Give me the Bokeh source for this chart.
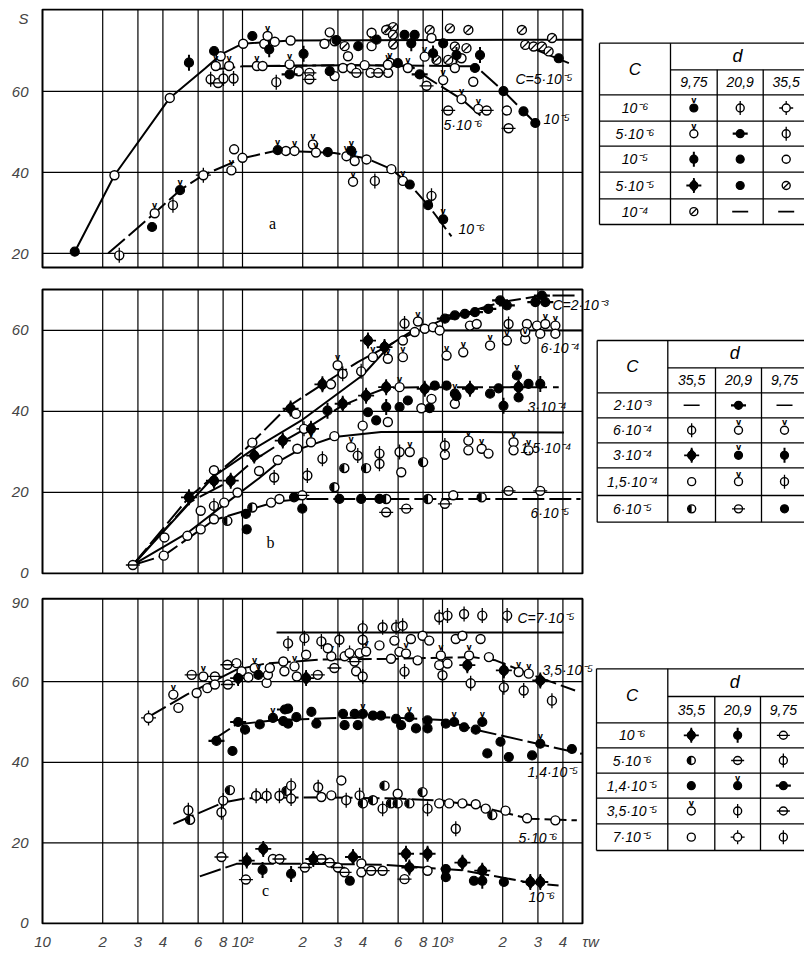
import math
from bokeh.plotting import figure
from bokeh.layouts import column
from bokeh.models import Range1d, LinearScale, FixedTicker
from bokeh.core.properties import value
from bokeh.embed import file_html
from bokeh.resources import INLINE

FONT = "Liberation Sans"
SERIF = "Liberation Serif"

# ---------------- axes ----------------
X_TICKS = [10, 20, 30, 40, 60, 80, 100, 200, 300, 400, 600, 800, 1000, 2000, 3000, 4000]
X_TICK_LABELS = ["10", "2", "3", "4", "6", "8", "10²", "2", "3", "4", "6", "8", "10³", "2", "3", "4"]
X_NAME = "τw"
X_NAME_POS = 5500
X_LIMITS = [10, 5012]
Y_GRID = [20, 40, 60]

A_Y_TICKS = [20, 40, 60, 78]
A_Y_LABELS = ["20", "40", "60", "S"]
A_Y_LIMITS = [16.5, 80.25]
B_Y_TICKS = [0, 20, 40, 60]
B_Y_LABELS = ["0", "20", "40", "60"]
B_Y_LIMITS = [0, 70.1]
C_Y_TICKS = [0, 20, 40, 60, 79.6]
C_Y_LABELS = ["0", "20", "40", "60", "90"]
C_Y_LIMITS = [0, 80.6]

# ---------------- panel a ----------------
A_LOW_X = [24.2, 35.3, 36.4, 44.9, 48.7, 63.7, 90.8, 88, 100, 150, 165, 182, 225, 233, 267, 331, 350, 364,
           357, 417, 459, 555, 634, 686, 881, 847, 1008]
A_LOW_Y = [19.5, 26.5, 29.9, 31.9, 35.6, 39.3, 45.7, 40.5, 43.6, 45.5, 45.3, 45.3, 46.9, 44.9, 45.0, 44.0, 45.3, 42.8,
           37.7, 43.2, 37.9, 40.8, 37.9, 37.0, 34.2, 31.9, 28.4]
A_LOW_M = ["os", "f", "ov", "os", "fv", "od", "o", "ov", "o", "fv", "o", "ov", "ov", "ov", "f", "ov", "fv", "ov",
           "ov", "o", "os", "o", "ov", "f", "os", "f", "fv"]

A_UP_X = [14.5, 22.9, 43.3, 54, 72.1, 69.3, 75.5, 73.5, 80.3, 90.2, 85.7, 77.8, 100.8, 112, 118, 126, 128.5, 133.5,
          136, 145, 147.5, 174, 172, 172, 191, 202, 216, 216, 257, 273, 289, 295, 273, 289, 324, 337, 379, 318,
          350, 371, 408, 437, 442, 468, 442, 477, 535, 546, 535, 567, 567, 523, 565, 646, 726, 698, 863, 881,
          1089, 1347, 1008, 1153, 1318, 1540, 533, 598, 671, 769, 815, 897, 933, 1068, 1175, 1245, 1153, 1453,
          832, 1008, 1245, 1510, 1663, 1068, 1425, 2018, 2098, 2139, 2541, 2911, 2495, 2592, 2855, 3141, 3529,
          3393, 3812]
A_UP_Y = [20.4, 39.3, 58.4, 67.1, 70.0, 63.0, 62.1, 66.3, 63.2, 63.2, 66.3, 68.7, 71.8, 73.7, 66.3, 66.3, 71.8, 73.7,
          70.4, 72.3, 62.3, 72.6, 66.7, 64.2, 65.0, 69.3, 64.6, 63.0, 71.8, 74.6, 72.4, 72.7, 65.0, 63.8, 71.2, 68.7,
          71.2, 65.8, 65.8, 64.6, 66.5, 64.6, 74.5, 72.8, 71.2, 64.6, 64.6, 67.1, 75.3, 75.9, 71.6, 75.2, 74.0,
          74.0, 74.0, 71.9, 75.2, 73.2, 75.6, 75.2, 71.9, 71.1, 70.7, 69.0, 66.6, 67.0, 65.8, 64.2, 68.6, 69.4,
          67.8, 67.8, 69.0, 68.2, 65.8, 65.8, 61.4, 62.8, 58.1, 55.7, 55.3, 55.3, 62.4, 60.1, 55.3, 50.9, 55.1,
          52.2, 75.2, 71.5, 71.1, 71.1, 73.2, 69.9, 68.2]
A_UP_M = ["f", "o", "o", "fs", "f", "os", "oh", "ov", "os", "os", "ov", "o", "o", "f", "ov", "o", "o", "ov",
          "fs", "o", "os", "o", "ov", "fh", "o", "fs", "oh", "oh", "o", "o", "o", "f", "f", "o", "sl", "o", "f", "o",
          "o", "oh", "o", "o", "o", "f", "ov", "oh", "o", "ov", "sl", "sl", "sl", "sl", "sl", "f", "f", "fs", "sl",
          "o", "sl", "sl", "f", "sl", "sl", "fs", "ov", "f", "ov", "fh", "ov", "fs", "sl", "sl", "fs", "o", "o",
          "f", "oh", "ov", "ov", "ov", "oh", "oh", "o", "f", "o", "oh", "f", "f", "sl", "sl", "sl", "sl", "sl",
          "sl", "f"]

# curves of panel a
A_5E5_X = [14.5, 22.9, 43.3, 65.4, 77.8, 100, 174, 5000]
A_5E5_Y = [20.4, 39.3, 58.4, 65.8, 69.1, 71.8, 72.6, 72.8]
A_5E5B_X = [2495, 4285]
A_5E5B_Y = [71.7, 67.0]
A_1E5_X = [71.5, 100, 400, 1469, 2018, 2541, 2911]
A_1E5_Y = [65.4, 66.2, 66.5, 66.2, 60.1, 55.1, 52.2]
A_5E6_X = [120, 400, 700, 815, 1245, 1570]
A_5E6_Y = [66.3, 66.5, 66.2, 63.8, 58.1, 53.8]
A_1E6_X = [21.3, 36.5, 48.7, 63.5, 100, 149, 288, 415, 555, 686, 847, 1109]
A_1E6_Y = [20.0, 30.0, 35.6, 39.3, 43.5, 45.4, 44.8, 43.5, 40.8, 37.0, 31.9, 24.2]

A_LABELS = ["C=5·10⁻⁵", "10⁻⁵", "5·10⁻⁶", "10⁻⁶"]

# ---------------- panel b ----------------
B_2E3_X = [1028, 1153, 1294, 1453, 1694, 1941, 2098, 2911, 3141, 3266]
B_2E3_Y = [62.9, 63.7, 64.1, 64.5, 65.3, 67.4, 66.2, 67.0, 68.6, 67.0]
B_2E3_M = ["fh"] * 10

B_6E4_X = [72, 112, 185, 299, 277, 317, 392, 449, 533, 634, 634, 646, 754, 815, 897, 726, 968, 1372, 1483, 1048,
           1270, 1729, 2098, 2592, 2139, 2643, 2968, 3266, 3667, 2592, 3082, 3667]
B_6E4_Y = [25.5, 32.3, 39.4, 51.4, 46.7, 49.3, 49.9, 53.4, 53.0, 53.4, 57.5, 61.7, 62.2, 60.4, 60.8, 59.6, 60.0,
           61.2, 61.6, 53.8, 54.6, 56.3, 57.5, 57.9, 61.6, 61.6, 61.2, 61.6, 61.2, 59.6, 59.2, 59.2]
B_6E4_M = ["o", "o", "o", "ov", "o", "os", "os", "ov", "ov", "ov", "o", "os", "ov", "o", "o", "o", "o", "o", "o",
           "ov", "ov", "ov", "ov", "ov", "os", "o", "o", "ov", "ov", "o", "o", "o"]

B_3E4_X = [54, 72, 87.3, 114.5, 159, 174, 251, 513, 424, 266, 317, 415, 523, 523, 610, 610, 671, 815, 915, 1048,
           1153, 1372, 1729, 881, 784, 863, 1153, 533, 424, 466, 399, 203, 220, 1906, 2355, 2401, 2692, 3082,
           2401, 2018, 1175]
B_3E4_Y = [18.8, 22.9, 22.9, 29.1, 32.8, 40.7, 46.7, 55.9, 57.5, 40.2, 41.9, 43.9, 46.0, 41.1, 46.0, 41.1, 42.7,
           45.6, 46.4, 46.4, 44.4, 45.6, 44.4, 43.1, 40.8, 40.8, 41.9, 37.4, 39.8, 37.8, 36.5, 35.7, 35.7, 45.7,
           48.9, 46.0, 46.8, 46.8, 43.5, 41.4, 43.8]
B_3E4_M = ["fd", "fd", "fd", "fd", "fd", "fd", "fd", "fd", "fd", "fs", "fd", "fd", "fd", "fs", "ov", "f", "f",
           "fd", "f", "f", "fv", "fd", "f", "o", "o", "f", "o", "o", "f", "f", "o", "od", "fd", "f", "fv", "fd",
           "f", "fs", "f", "fs", "f"]

B_15E4_X = [40.7, 61.8, 72, 81, 94.4, 121, 144, 150, 188, 220, 288, 349, 377, 251, 211, 323, 415, 484, 484, 610,
            686, 622, 800, 1028, 1028, 1347, 1347, 1570, 1698, 2266, 2266, 2692]
B_15E4_Y = [8.9, 15.5, 16.7, 17.5, 20.0, 25.3, 23.7, 28.0, 30.8, 32.4, 33.9, 31.2, 29.1, 28.3, 24.2, 26.0, 26.0,
            29.6, 27.1, 30.0, 30.0, 25.0, 27.5, 31.6, 29.3, 32.8, 30.4, 30.8, 29.6, 32.4, 30.4, 30.4]
B_15E4_M = ["o", "o", "os", "o", "o", "o", "os", "o", "o", "ov", "o", "ov", "os", "os", "os", "half", "half", "os",
            "os", "os", "ov", "o", "half", "os", "o", "ov", "o", "ov", "o", "ov", "o", "ov"]

B_6E5_X = [28.3, 40.4, 53, 61.8, 72, 84, 104, 105, 112, 139, 153, 181, 199, 199, 288, 305, 392, 484, 523, 523,
           659, 847, 1028, 1132, 1570, 2139, 3082]
B_6E5_Y = [2.1, 4.4, 9.3, 10.9, 13.4, 13.0, 14.7, 10.9, 16.3, 17.5, 18.4, 18.8, 19.3, 16.0, 21.3, 18.4, 18.4,
           18.4, 18.4, 15.1, 16.0, 18.4, 17.2, 19.3, 18.8, 20.4, 20.4]
B_6E5_M = ["oh", "o", "o", "o", "o", "half", "f", "f", "half", "o", "o", "f", "oh", "f", "half", "f", "f", "f",
           "half", "oh", "oh", "half", "oh", "o", "half", "oh", "oh"]

# curves of panel b
B_L2E3_X = [28.3, 54, 100, 168, 251, 377, 622, 1028, 1294, 1982, 3141, 4600]
B_L2E3_Y = [2.1, 18.8, 30.0, 41.1, 46.7, 52.2, 58.0, 62.9, 64.3, 67.0, 68.6, 68.6]
B_L6E4_X = [28.3, 72, 112, 200, 400, 555, 713, 4990]
B_L6E4_Y = [2.1, 24.0, 30.5, 38.0, 49.0, 56.7, 60.0, 60.0]
B_L3E4_X = [28.3, 54, 87, 114.5, 162, 220, 317, 415, 523, 815, 1372, 2401, 3812]
B_L3E4_Y = [2.1, 17.5, 22.9, 28.0, 32.8, 36.5, 41.5, 43.9, 45.8, 46.0, 46.0, 46.0, 46.0]
B_L15E4_X = [28.3, 53, 81, 121, 155, 200, 288, 493, 1000, 4045]
B_L15E4_Y = [2.1, 10.0, 17.0, 23.5, 27.9, 31.0, 33.7, 34.9, 35.0, 34.8]
B_L6E5_X = [28.3, 40.4, 72, 112, 150, 201, 400, 1000, 4900]
B_L6E5_Y = [2.1, 4.4, 13.2, 16.0, 17.8, 18.4, 18.4, 18.4, 18.4]

B_LABELS = ["C=2·10⁻³", "6·10⁻⁴", "3·10⁻⁴", "1,5·10⁻⁴", "6·10⁻⁵"]

# ---------------- panel c ----------------
C_7E5_X = [963, 1059, 1282, 1581, 2105, 502, 586, 632, 169, 204, 248, 305, 399, 399, 484, 575, 695, 795, 858, 1165,
           1258, 1550, 267]
C_7E5_Y = [76.0, 76.4, 76.8, 76.4, 76.4, 73.5, 73.5, 73.9, 69.5, 70.8, 70.0, 70.4, 73.3, 70.4, 69.0, 70.2, 70.6,
           71.4, 70.2, 70.6, 71.4, 70.6, 68.3]
C_7E5_M = ["os", "os", "os", "os", "os", "os", "os", "os", "os", "os", "os", "os", "os", "os", "o", "o", "o", "o",
           "o", "o", "o", "o", "o"]

C_35E5_X = [33.9, 45.1, 47.8, 55.7, 59.0, 63.7, 66.7, 72.8, 72.8, 84.0, 84.5, 93.3, 95.1, 98.9, 107, 115, 120, 132,
            134, 137, 160, 162, 182, 187, 208, 208, 238, 278, 288, 324, 343, 363, 370, 385, 399, 415, 553, 609,
            657, 751, 981, 963, 1059, 1000, 646, 1358, 1706, 1331, 1383, 2027, 2027, 2404, 2547, 2699, 3083, 3525]
C_35E5_Y = [51.0, 56.8, 53.5, 61.7, 57.2, 61.3, 58.4, 61.3, 59.3, 64.2, 59.3, 64.6, 60.9, 62.6, 61.1, 63.4, 61.7,
            59.7, 61.7, 63.4, 65.0, 62.6, 63.8, 61.3, 66.7, 60.9, 61.7, 66.3, 63.4, 66.3, 67.1, 65.0, 62.6, 67.1,
            61.3, 67.5, 65.7, 67.4, 67.0, 65.3, 66.5, 64.1, 64.5, 61.6, 62.5, 66.5, 66.1, 64.1, 59.6, 62.8, 58.6,
            62.4, 57.8, 62.0, 60.3, 55.3]
C_35E5_M = ["od", "ov", "o", "oh", "o", "ov", "o", "oh", "o", "oh", "oh", "o", "fd", "o", "o", "ov", "fv", "o",
            "o", "o", "o", "o", "ov", "o", "o", "fd", "oh", "ov", "oh", "o", "od", "oh", "o", "o", "os", "ov", "o",
            "o", "ov", "o", "ov", "o", "o", "os", "os", "ov", "o", "fd", "os", "fd", "os", "ov", "os", "ov", "fd",
            "os"]

C_14E5_X = [74.1, 89.1, 95.1, 103, 122, 142, 163, 160, 169, 186, 169, 221, 234, 318, 324, 377, 364, 400, 449, 493,
            586, 621, 683, 737, 842, 842, 1039, 1143, 1282, 1466, 1581, 1675, 1950, 2146, 2805, 3083, 4435]
C_14E5_Y = [45.3, 42.8, 50.0, 48.1, 49.4, 51.0, 53.1, 50.2, 53.3, 51.2, 49.6, 52.5, 49.6, 52.0, 49.2, 49.2, 52.0,
            52.0, 51.6, 51.6, 50.8, 49.2, 51.2, 48.4, 50.4, 48.4, 49.6, 50.0, 48.7, 48.1, 50.0, 42.2, 45.1, 41.3,
            41.7, 44.6, 43.3]
C_14E5_M = ["fh", "f", "fh", "f", "f", "fv", "fh", "f", "f", "f", "f", "f", "f", "f", "f", "f", "f", "fv", "f",
            "f", "f", "f", "fv", "f", "f", "f", "f", "fv", "f", "f", "fv", "f", "f", "f", "f", "fv", "f"]

C_5E6_X = [53.6, 54.7, 78.5, 80.1, 86.5, 117, 132, 153, 166, 175, 175, 239, 248, 278, 312, 330, 385, 400, 449, 502,
           513, 553, 597, 597, 683, 795, 842, 963, 1080, 1258, 1466, 1645, 1775, 1165, 2066, 2648, 3667]
C_5E6_Y = [28.1, 25.7, 27.6, 30.5, 33.1, 31.7, 31.7, 31.7, 32.9, 34.2, 31.0, 33.8, 31.4, 31.8, 35.5, 30.6, 31.8,
           29.8, 30.6, 28.5, 34.2, 29.8, 32.2, 29.8, 29.8, 32.6, 28.5, 29.8, 29.8, 29.8, 29.6, 28.5, 26.9, 23.5,
           28.0, 26.1, 25.6]
C_5E6_M = ["os", "half", "os", "os", "half", "os", "os", "os", "half", "os", "os", "os", "o", "o", "o", "os", "os",
           "half", "half", "os", "half", "half", "o", "half", "half", "half", "os", "o", "o", "o", "o", "o", "half",
           "os", "o", "o", "o"]

C_1E6_X = [78.5, 104, 105, 126, 127, 142, 153, 175, 205, 226, 248, 273, 300, 324, 344, 357, 393, 393, 440, 502, 657,
           683, 646, 842, 842, 1039, 1039, 1258, 1436, 1581, 1581, 2027, 2749, 3083]
C_1E6_Y = [16.5, 10.9, 15.6, 13.3, 18.5, 16.0, 16.0, 12.3, 13.9, 16.0, 16.0, 15.1, 13.9, 12.7, 10.6, 16.5, 14.9,
           12.7, 13.1, 13.1, 17.3, 13.9, 11.0, 17.3, 13.1, 13.5, 11.5, 15.1, 10.6, 13.1, 10.6, 10.3, 10.3, 10.3]
C_1E6_M = ["oh", "oh", "fd", "fs", "fd", "o", "oh", "fs", "oh", "fd", "oh", "oh", "oh", "oh", "f", "fd", "o", "o",
           "oh", "oh", "fd", "fd", "oh", "fd", "o", "f", "f", "fd", "f", "fd", "fs", "f", "fd", "fd"]

# curves of panel c
C_L7E5_X = [148, 4030]
C_L7E5_Y = [72.2, 72.2]
C_L35E5_X = [33.2, 52.6, 93.3, 130, 250, 600, 1410, 1842, 2698, 4603]
C_L35E5_Y = [51.0, 56.8, 63.0, 64.5, 65.5, 65.7, 66.1, 65.3, 62.0, 57.8]
C_L14E5_X = [70, 93.3, 150, 300, 503, 1000, 1522, 4977]
C_L14E5_Y = [45.3, 49.4, 50.5, 51.0, 51.2, 50.5, 47.9, 42.1]
C_L5E6_X = [45.1, 80.1, 105, 250, 600, 1000, 1580, 2698, 4696]
C_L5E6_Y = [24.7, 30.0, 31.1, 31.3, 31.0, 30.5, 28.9, 26.0, 25.6]
C_L1E6_X = [61.2, 93.3, 200, 503, 1257, 2698, 3805]
C_L1E6_Y = [11.7, 14.8, 14.8, 14.6, 13.2, 10.2, 9.4]

C_LABELS = ["C=7·10⁻⁵", "3,5·10⁻⁵", "1,4·10⁻⁵", "5·10⁻⁶", "10⁻⁶"]

# ---------------- legend tables ----------------
TA_ROWS = ["10⁻⁶", "5·10⁻⁶", "10⁻⁵", "5·10⁻⁵", "10⁻⁴"]
TA_COLS = ["9,75", "20,9", "35,5"]
TA_SYMS = [["fv", "os", "od"], ["ov", "fh", "os"], ["fs", "f", "o"], ["fd", "f", "sl"], ["sl", "-", "-"]]
TB_ROWS = ["2·10⁻³", "6·10⁻⁴", "3·10⁻⁴", "1,5·10⁻⁴", "6·10⁻⁵"]
TB_COLS = ["35,5", "20,9", "9,75"]
TB_SYMS = [["-", "fh", "-"], ["os", "ov", "ov"], ["fd", "fv", "fs"], ["o", "ov", "os"], ["half", "oh", "f"]]
TC_ROWS = ["10⁻⁶", "5·10⁻⁶", "1,4·10⁻⁵", "3,5·10⁻⁵", "7·10⁻⁵"]
TC_COLS = ["35,5", "20,9", "9,75"]
TC_SYMS = [["fd", "fs", "oh"], ["half", "oh", "os"], ["f", "fv", "fh"], ["ov", "os", "oh"], ["o", "od", "os"]]

# ---------------- layout ----------------
W = 804
LEFT = 40
PAGE_RIGHT = 804
PX_DEC = 200.0


def page_to_x(px):
    return 10 ** (1 + (px - 42) / PX_DEC)


XR = (page_to_x(LEFT), page_to_x(PAGE_RIGHT))


def draw_symbols(p, xs, ys, ms, size=9, rn=None):
    kw = dict(x_range_name=rn, y_range_name=rn) if rn else {}

    def sel(codes):
        xx = [x for x, m in zip(xs, ms) if m in codes]
        yy = [y for y, m in zip(ys, ms) if m in codes]
        return xx, yy

    xx, yy = sel({"od"})
    if xx:
        p.scatter(xx, yy, marker="cross", size=size + 6, line_color="black", line_width=1.3, **kw)
    xx, yy = sel({"fd"})
    if xx:
        p.scatter(xx, yy, marker="cross", size=size + 7, line_color="black", line_width=1.8, **kw)
        p.scatter(xx, yy, marker="diamond", size=size + 5, fill_color="black", line_color="black", **kw)
    xx, yy = sel({"o", "ov", "os", "oh", "od", "sl", "half"})
    if xx:
        p.scatter(xx, yy, marker="circle", size=size, fill_color="white", line_color="black",
                  line_width=1.4, **kw)
    xx, yy = sel({"f", "fv", "fs", "fh", "fd"})
    if xx:
        p.scatter(xx, yy, marker="circle", size=size, fill_color="black", line_color="black",
                  line_width=1.2, **kw)
    xx, yy = sel({"os"})
    if xx:
        p.scatter(xx, yy, marker="dash", angle=math.pi / 2, size=size + 6, line_color="black",
                  line_width=1.3, **kw)
    xx, yy = sel({"fs"})
    if xx:
        p.scatter(xx, yy, marker="dash", angle=math.pi / 2, size=size + 7, line_color="black",
                  line_width=2, **kw)
    xx, yy = sel({"oh"})
    if xx:
        p.scatter(xx, yy, marker="dash", size=size + 5, line_color="black", line_width=1.3, **kw)
    xx, yy = sel({"fh"})
    if xx:
        p.scatter(xx, yy, marker="dash", size=size + 7, line_color="black", line_width=2.2, **kw)
    xx, yy = sel({"sl"})
    if xx:
        p.scatter(xx, yy, marker="dash", angle=math.pi / 4, size=size, line_color="black",
                  line_width=1.3, **kw)
    xx, yy = sel({"half"})
    if xx:
        p.wedge(xx, yy, radius=size / 2 - 0.3, radius_units="screen", start_angle=math.pi / 2,
                end_angle=3 * math.pi / 2, fill_color="black", line_color=None, **kw)
    xx, yy = sel({"ov", "fv"})
    if xx:
        p.text(xx, yy, text=["v"] * len(xx), text_font=value("DejaVu Sans"), text_font_size="8px",
               text_font_style="bold", text_align="center", text_baseline="bottom", y_offset=-3,
               text_color="black", **kw)
    xx, yy = sel({"-"})
    if xx:
        p.scatter(xx, yy, marker="dash", size=16, line_color="black", line_width=1.6, **kw)


def put_text(p, xs, ys, texts, size="14px", font=FONT, style="italic", align="left"):
    p.text(x=xs, y=ys, text=texts, x_range_name="px", y_range_name="px", text_font=value(font),
           text_font_style=style, text_font_size=size, text_align=align, text_baseline="middle",
           text_color="black")


def draw_table(p, gx, gy, rows, cols, syms):
    x0, x1, x2, x3 = gx
    top, dline, hdr, bottom = gy[0], gy[1], gy[2], gy[-1]
    hy = [top, hdr] + gy[3:-1] + [bottom]
    lk = dict(line_color="black", line_width=1.3, x_range_name="px", y_range_name="px")
    p.segment(x0=[x0] * len(hy), y0=hy, x1=[PAGE_RIGHT] * len(hy), y1=hy, **lk)
    p.segment(x0=[x1], y0=[dline], x1=[PAGE_RIGHT], y1=[dline], **lk)
    p.segment(x0=[x0, x1, x2, x3], y0=[top, top, dline, dline], x1=[x0, x1, x2, x3], y1=[bottom] * 4, **lk)
    bounds = [hdr] + gy[3:-1] + [bottom]
    rc = [(bounds[i] + bounds[i + 1]) / 2 for i in range(len(bounds) - 1)]
    cc = [(x1 + x2) / 2, (x2 + x3) / 2, x3 + (x3 - x2) / 2]
    put_text(p, [(x0 + x1) / 2], [(top + hdr) / 2], ["C"], size="17px", align="center")
    put_text(p, [x1 + 67], [(top + dline) / 2 - 1], ["d"], size="18px", align="center")
    put_text(p, cc, [(dline + hdr) / 2] * 3, cols, size="14px", align="center")
    put_text(p, [(x0 + x1) / 2] * len(rows), rc, rows, size="14px", align="center")
    sx, sy, sm = [], [], []
    for r, row in enumerate(syms):
        for c, s in enumerate(row):
            sx.append(cc[c])
            sy.append(rc[r])
            sm.append(s)
    draw_symbols(p, sx, sy, sm, size=8, rn="px")


def make_panel(height, b_top, b_bot, yr, page_top, page_bot, yticks, ylabels, ylim, show_x):
    p = figure(width=W, height=height, x_axis_type="log", x_range=Range1d(*XR), y_range=Range1d(*yr),
               x_axis_location="below" if show_x else None, output_backend="svg", toolbar_location=None,
               min_border_left=LEFT, min_border_right=0, min_border_top=b_top, min_border_bottom=b_bot)
    p.outline_line_color = None
    p.grid.visible = False
    p.background_fill_color = "white"
    p.border_fill_color = "white"
    p.extra_x_ranges = {"px": Range1d(LEFT, PAGE_RIGHT)}
    p.extra_y_ranges = {"px": Range1d(page_bot, page_top)}
    p.extra_x_scales = {"px": LinearScale()}
    p.extra_y_scales = {"px": LinearScale()}
    ya = p.yaxis[0]
    ya.ticker = FixedTicker(ticks=yticks)
    ya.major_label_overrides = {t: l for t, l in zip(yticks, ylabels)}
    ya.axis_line_color = None
    ya.major_tick_line_color = None
    ya.minor_tick_line_color = None
    ya.major_label_text_font = FONT
    ya.major_label_text_font_style = "italic"
    ya.major_label_text_font_size = "15px"
    ya.major_label_standoff = 6
    if show_x:
        xa = p.xaxis[0]
        ticks = X_TICKS + [X_NAME_POS]
        xa.ticker = FixedTicker(ticks=ticks)
        xa.major_label_overrides = {t: l for t, l in zip(ticks, X_TICK_LABELS + [X_NAME])}
        xa.axis_line_color = None
        xa.major_tick_line_color = None
        xa.minor_tick_line_color = None
        xa.major_tick_out = 0
        xa.major_label_text_font = FONT
        xa.major_label_text_font_style = "italic"
        xa.major_label_text_font_size = "15px"
        xa.major_label_standoff = 8
    # grid (inside plotting frame)
    gx = [t for t in X_TICKS if X_LIMITS[0] < t < X_LIMITS[1]]
    p.segment(x0=gx, y0=[ylim[0]] * len(gx), x1=gx, y1=[ylim[1]] * len(gx), line_color="black",
              line_width=1.2)
    p.segment(x0=[X_LIMITS[0]] * len(Y_GRID), y0=Y_GRID, x1=[X_LIMITS[1]] * len(Y_GRID), y1=Y_GRID,
              line_color="black", line_width=1.2)
    p.quad(left=[X_LIMITS[0]], right=[X_LIMITS[1]], bottom=[ylim[0]], top=[ylim[1]], fill_color=None,
           line_color="black", line_width=2)
    return p


SOLID = "solid"
DASH = "22 5"

# ---- panel a ----
pa = make_panel(275, 8, 6, (16.0, 80.5), 8, 269, A_Y_TICKS, A_Y_LABELS, A_Y_LIMITS, False)
for xs, ys, d in [(A_5E5_X, A_5E5_Y, SOLID), (A_5E5B_X, A_5E5B_Y, SOLID), (A_1E5_X, A_1E5_Y, DASH),
                  (A_5E6_X, A_5E6_Y, DASH), (A_1E6_X, A_1E6_Y, DASH)]:
    pa.line(xs, ys, line_color="black", line_width=2, line_dash=d)
draw_symbols(pa, A_LOW_X, A_LOW_Y, A_LOW_M)
draw_symbols(pa, A_UP_X, A_UP_Y, A_UP_M)
put_text(pa, [515, 543, 443, 458], [78, 118, 124, 228], A_LABELS)
put_text(pa, [272], [223], ["a"], size="16px", font=SERIF, style="normal", align="center")
draw_table(pa, [599, 670, 716.7, 762.7], [42.7, 69.3, 94.3, 120.7, 145.7, 171.7, 198.3, 224],
           TA_ROWS, TA_COLS, TA_SYMS)

# ---- panel b ----
pb = make_panel(307, 12, 8, (-0.25, 70.6), 287, 574, B_Y_TICKS, B_Y_LABELS, B_Y_LIMITS, False)
for xs, ys, d in [(B_L2E3_X, B_L2E3_Y, DASH), (B_L6E4_X, B_L6E4_Y, SOLID), (B_L3E4_X, B_L3E4_Y, "26 6"),
                  (B_L15E4_X, B_L15E4_Y, SOLID), (B_L6E5_X, B_L6E5_Y, DASH)]:
    pb.line(xs, ys, line_color="black", line_width=2, line_dash=d)
for xs, ys, ms in [(B_6E5_X, B_6E5_Y, B_6E5_M), (B_15E4_X, B_15E4_Y, B_15E4_M), (B_3E4_X, B_3E4_Y, B_3E4_M),
                   (B_6E4_X, B_6E4_Y, B_6E4_M), (B_2E3_X, B_2E3_Y, B_2E3_M)]:
    draw_symbols(pb, xs, ys, ms)
put_text(pb, [552, 540, 527, 520, 530], [304, 347, 406, 447, 512], B_LABELS)
put_text(pb, [270], [542], ["b"], size="16px", font=SERIF, style="normal", align="center")
draw_table(pb, [596.7, 667.3, 715, 761], [340, 367.3, 392.3, 417.3, 442.3, 467.3, 495, 521.7],
           TB_ROWS, TB_COLS, TB_SYMS)

# ---- panel c ----
pc = make_panel(370, 14, 28, (-0.25, 81.14), 596, 924, C_Y_TICKS, C_Y_LABELS, C_Y_LIMITS, True)
for xs, ys, d in [(C_L7E5_X, C_L7E5_Y, SOLID), (C_L35E5_X, C_L35E5_Y, DASH), (C_L14E5_X, C_L14E5_Y, DASH),
                  (C_L5E6_X, C_L5E6_Y, DASH), (C_L1E6_X, C_L1E6_Y, DASH)]:
    pc.line(xs, ys, line_color="black", line_width=2, line_dash=d)
for xs, ys, ms in [(C_1E6_X, C_1E6_Y, C_1E6_M), (C_5E6_X, C_5E6_Y, C_5E6_M), (C_14E5_X, C_14E5_Y, C_14E5_M),
                   (C_35E5_X, C_35E5_Y, C_35E5_M), (C_7E5_X, C_7E5_Y, C_7E5_M)]:
    draw_symbols(pc, xs, ys, ms)
put_text(pc, [517, 542, 527, 518, 528], [617, 669, 771, 837, 896], C_LABELS)
put_text(pc, [265], [890], ["c"], size="16px", font=SERIF, style="normal", align="center")
draw_table(pc, [596, 667.3, 714.3, 760], [668.3, 696, 722.3, 747.3, 772.7, 797.7, 823.3, 850],
           TC_ROWS, TC_COLS, TC_SYMS)

layout = column(pa, pb, pc)
with open("out.html", "w", encoding="utf-8") as f:
    f.write(file_html(layout, INLINE))
